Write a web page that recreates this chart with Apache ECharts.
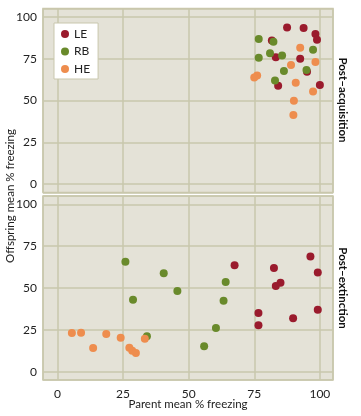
<!DOCTYPE html>
<html><head><meta charset="utf-8">
<script src="https://cdn.jsdelivr.net/npm/echarts@6/dist/echarts.min.js"></script>
<style>html,body{margin:0;padding:0;background:#fff}#c{width:361px;height:416px}</style>
</head><body><div id="c"></div>
<script>
// Post-acquisition panel: [parent, offspring]
const acqLE = [[87.5,93.7],[93.8,93.3],[98.3,89.7],[98.9,86.3],[81.7,85.9],[83.2,75.8],[92.5,74.9],[95.1,67.2],[84.1,58.8],[100,59.2]];
const acqRB = [[76.7,86.7],[82.3,85.1],[97.4,80.3],[81.0,78.3],[85.6,76.9],[76.7,75.5],[86.3,67.6],[94.9,68.2],[82.9,62.0]];
const acqHE = [[92.5,81.5],[98.3,73.0],[89.0,71.2],[76.1,65.0],[75.0,63.8],[90.8,60.6],[97.4,55.4],[90.1,49.8],[89.9,41.3]];
// Post-extinction panel
const extLE = [[67.5,63.6],[82.5,62.0],[96.4,68.9],[99.2,59.2],[85.0,53.2],[83.2,51.2],[76.6,35.1],[76.6,27.7],[89.8,31.9],[99.2,37.0]];
const extRB = [[40.5,58.8],[45.7,48.2],[64.1,53.6],[63.3,42.4],[60.4,26.1],[55.9,15.2],[25.9,65.7],[28.8,43.0],[34.1,21.1]];
const extHE = [[5.5,23.1],[9.0,23.3],[13.6,14.2],[18.6,22.5],[24.1,20.3],[27.4,14.3],[28.5,12.5],[29.9,11.2],[33.3,19.7]];
const groups = ['LE','RB','HE'];
const panels = ['Post\u2013acquisition','Post\u2013extinction'];
const xTitle = 'Parent mean % freezing';
const yTitle = 'Offspring mean % freezing';
const tickVals = [0,25,50,75,100];

const colors = {LE:'#9a1b2d', RB:'#698a2b', HE:'#ee8d4e'};
const gridCol = '#c9c7ad';
const font = 'Lato';
const fmt = v => tickVals.indexOf(Math.round(v*1000)/1000) >= 0 ? String(v) : '';

function xAx(i, showLabels){
  return {type:'value', gridIndex:i, min:-5.5, max:105, minInterval:25, maxInterval:25,
    axisLine:{show:false}, axisTick:{show:false},
    axisLabel:{show:showLabels, formatter:fmt, color:'#222', fontFamily:font, fontSize:12, margin:8, showMinLabel:false, showMaxLabel:false},
    splitLine:{show:true, lineStyle:{color:gridCol, width:1.5}}};
}
function yAx(i){
  return {type:'value', gridIndex:i, min:-5, max:105, minInterval:25, maxInterval:25,
    axisLine:{show:false}, axisTick:{show:false},
    axisLabel:{formatter:fmt, color:'#222', fontFamily:font, fontSize:12, margin:6, showMinLabel:false, showMaxLabel:false},
    splitLine:{show:true, lineStyle:{color:gridCol, width:1.5}}};
}
function sc(name, data, i){
  return {type:'scatter', name, data, xAxisIndex:i, yAxisIndex:i, symbol:'circle', symbolSize:8,
    itemStyle:{color:colors[name], opacity:1}, emphasis:{disabled:true}};
}
const chart = echarts.init(document.getElementById('c'), null, {renderer:'canvas'});
chart.setOption({
  animation:false,
  backgroundColor:'#fff',
  grid:[
    {left:43, top:8.5, width:290, height:184, show:true, backgroundColor:'#e4e2d7', borderColor:gridCol, borderWidth:1.5},
    {left:43, top:196, width:290, height:184, show:true, backgroundColor:'#e4e2d7', borderColor:gridCol, borderWidth:1.5}
  ],
  xAxis:[xAx(0,false), xAx(1,true)],
  yAxis:[yAx(0), yAx(1)],
  legend:{data:groups, orient:'vertical', left:54, top:23, padding:[5,8,4,7], itemGap:5.5,
    itemWidth:8, itemHeight:8, icon:'circle', backgroundColor:'#fff', borderColor:'#c9c7ad', borderWidth:1,
    textStyle:{fontFamily:font, fontSize:12, color:'#222'}},
  series:[
    sc('LE',acqLE,0), sc('RB',acqRB,0), sc('HE',acqHE,0),
    sc('LE',extLE,1), sc('RB',extRB,1), sc('HE',extHE,1)
  ],
  graphic:[
    {type:'text', x:342.5, y:100, rotation:-Math.PI/2, style:{text:panels[0], font:'bold 11.5px Lato', fill:'#111', align:'center', verticalAlign:'middle'}},
    {type:'text', x:342.5, y:288, rotation:-Math.PI/2, style:{text:panels[1], font:'bold 11.5px Lato', fill:'#111', align:'center', verticalAlign:'middle'}},
    {type:'text', x:10, y:196, rotation:Math.PI/2, style:{text:yTitle, font:'11.5px Lato', fill:'#222', align:'center', verticalAlign:'middle'}},
    {type:'text', x:188, y:404, style:{text:xTitle, font:'11.5px Lato', fill:'#222', align:'center', verticalAlign:'middle'}}
  ]
});
</script></body></html>
